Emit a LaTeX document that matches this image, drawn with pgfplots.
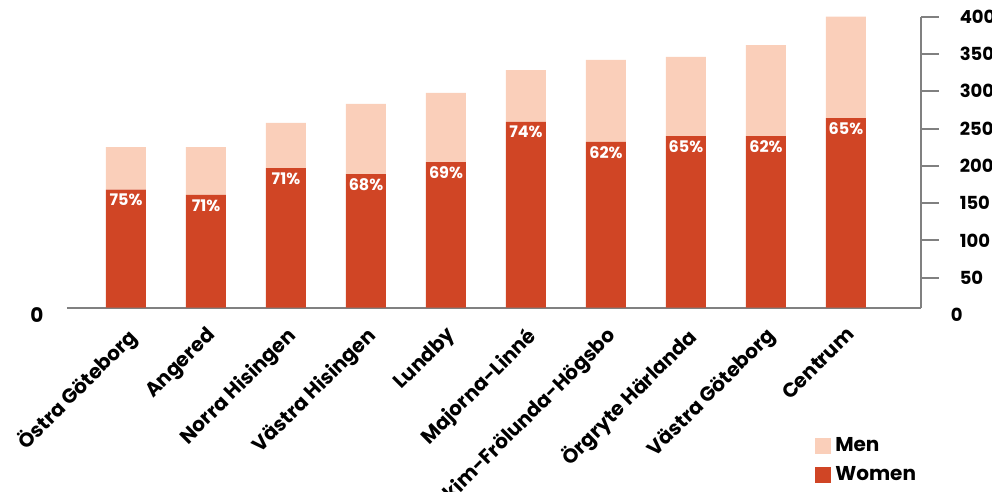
\documentclass[border=0pt]{standalone}
\usepackage{fontspec}
\setmainfont{Poppins}
\usepackage{pgfplots}
\pgfplotsset{compat=1.18}
\usepackage{pgfplotstable}
\definecolor{women}{HTML}{D04525}
\definecolor{men}{HTML}{FACFBA}
\definecolor{axisgray}{HTML}{808080}

\pgfplotstableread{
x w m p
0 168 57 75
1 161 64 71
2 197 60.5 71
3 189 94 68
4 205 93 69
5 259 69.5 74
6 232 110 62
7 240 106 65
8 240 122 62
9 264 136 65
}\data

\pgfplotsset{
  frame/.style={scale only axis, width=426.85pt, height=145.5pt,
    xmin=-0.7375, xmax=9.934, ymin=9.8, ymax=400},
}

\begin{document}
\begin{tikzpicture}
\begin{axis}[
  frame,
  ybar stacked, bar width=0.5,
  axis x line*=bottom, axis y line*=right,
  axis line style={axisgray, line width=1pt},
  xtick=data,
  xticklabels={Östra Göteborg, Angered, Norra Hisingen, Västra Hisingen, Lundby, Majorna-Linné, Askim-Frölunda-Högsbo, Örgryte Härlanda, Västra Göteborg, Centrum},
  x tick style={draw=none},
  xticklabel style={rotate=45, anchor=north east, font=\bfseries\fontsize{10}{10}\selectfont, inner sep=0pt, xshift=0pt, yshift=0.5pt},
  ytick={50,100,...,400},
  y tick style={axisgray, line width=1pt},
  tick align=outside, major tick length=9pt,
  yticklabel style={anchor=west, font=\bfseries\fontsize{9}{10}\selectfont, xshift=7pt},
  /pgf/number format/assume math mode=true,
  legend style={draw=none, fill=none, at={(rel axis cs:0.876,-0.43)}, anchor=north west, font=\bfseries\fontsize{10}{10}\selectfont, inner sep=0pt, row sep=2pt},
  legend cell align=left,
  reverse legend,
]
\addplot[fill=women, draw=none,
  legend image code/.code={\fill[women] (0pt,-4pt) rectangle (8pt,4pt);}]
  table[x=x, y=w]{\data};
\addlegendentry{Women}
\addplot[fill=men, draw=none,
  legend image code/.code={\fill[men] (0pt,-4pt) rectangle (8pt,4pt);}]
  table[x=x, y=m]{\data};
\addlegendentry{Men}
\coordinate (zL) at (axis cs:-0.7375,0);
\coordinate (zR) at (axis cs:9.934,0);
\end{axis}
\begin{axis}[frame, hide axis, clip=false,
  /pgf/number format/assume math mode=true]
\addplot[draw=none, mark=none,
  point meta=explicit,
  nodes near coords={\pgfmathprintnumber{\pgfplotspointmeta}\%},
  every node near coord/.append style={anchor=north, text=white, font=\bfseries\fontsize{8}{8}\selectfont, inner sep=0pt, yshift=-2pt}]
  table[x=x, y=w, meta=p]{\data};
\end{axis}
\node[font=\bfseries\fontsize{10}{10}\selectfont] at ([xshift=-15pt]zL) {0};
\node[anchor=west, font=\bfseries\fontsize{9}{10}\selectfont] at ([xshift=11.5pt]zR) {0};
\pgfresetboundingbox
\useasboundingbox (-33.5pt,-92.15pt) rectangle (462.5pt,153.85pt);
\end{tikzpicture}
\end{document}
